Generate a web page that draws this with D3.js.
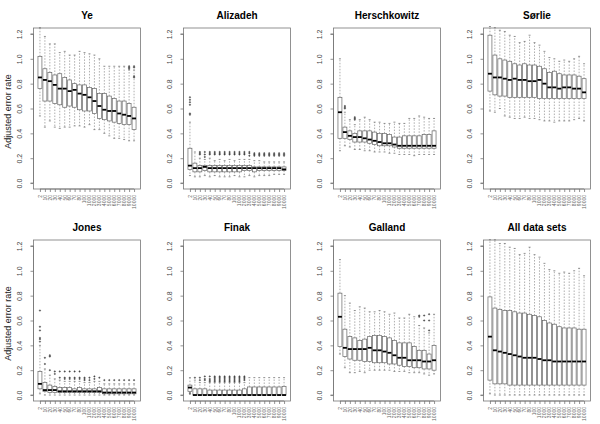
<!DOCTYPE html>
<html><head><meta charset="utf-8">
<script src="https://cdn.jsdelivr.net/npm/d3@7"></script>
<style>body{margin:0;background:#fff}svg{display:block}</style>
</head><body><svg id="c" width="600" height="424"></svg>
<script>
const titles = ["Ye","Alizadeh","Herschkowitz","Sørlie","Jones","Finak","Galland","All data sets"];
const xLabels = ["2","10","20","30","40","50","60","70","80","100","1000","2000","3000","4000","5000","6000","7000","8000","9000","10000"];
const yTicks = [0,0.2,0.4,0.6,0.8,1.0,1.2];
const yTickLabels = ["0.0","0.2","0.4","0.6","0.8","1.0","1.2"];
const yTitle = "Adjusted error rate";

// each row: [lower whisker, Q1, median, Q3, upper whisker]
const ye = [[0.54,0.76,0.85,1.02,1.25],[0.45,0.66,0.83,0.92,1.18],[0.50,0.66,0.82,0.89,1.12],[0.45,0.64,0.79,0.87,1.12],[0.44,0.63,0.76,0.88,1.05],[0.45,0.61,0.76,0.85,1.06],[0.45,0.62,0.74,0.83,1.03],[0.46,0.61,0.75,0.80,1.03],[0.46,0.59,0.72,0.79,1.06],[0.45,0.58,0.71,0.79,1.05],[0.47,0.58,0.69,0.77,1.04],[0.43,0.56,0.66,0.76,1.03],[0.43,0.52,0.62,0.72,1.00],[0.40,0.51,0.59,0.72,0.94],[0.38,0.50,0.58,0.70,0.94],[0.36,0.49,0.58,0.68,0.94],[0.36,0.48,0.56,0.66,0.94],[0.35,0.47,0.55,0.66,0.94],[0.34,0.47,0.54,0.64,0.91],[0.34,0.43,0.52,0.61,0.91]];
const yeOut = [[19,0.94],[19,0.93],[19,0.92],[20,0.94],[20,0.93],[20,0.86],[20,0.85]];

const alizadeh = [[0.06,0.11,0.14,0.28,0.49],[0.05,0.09,0.12,0.16,0.25],[0.05,0.09,0.12,0.14,0.20],[0.06,0.10,0.13,0.14,0.19],[0.05,0.09,0.12,0.14,0.20],[0.06,0.09,0.12,0.14,0.18],[0.05,0.09,0.12,0.14,0.19],[0.05,0.09,0.12,0.14,0.18],[0.05,0.09,0.12,0.14,0.19],[0.06,0.09,0.12,0.14,0.18],[0.05,0.09,0.12,0.14,0.19],[0.05,0.10,0.12,0.14,0.19],[0.06,0.10,0.12,0.14,0.19],[0.05,0.09,0.12,0.13,0.18],[0.06,0.10,0.12,0.13,0.18],[0.06,0.10,0.12,0.13,0.17],[0.06,0.10,0.12,0.13,0.17],[0.07,0.10,0.12,0.13,0.17],[0.07,0.10,0.12,0.13,0.17],[0.07,0.10,0.11,0.13,0.17]];
const alizadehOut = [[1,0.55],[1,0.56],[1,0.63],[1,0.65],[1,0.67],[1,0.69],[3,0.23],[3,0.24],[3,0.25],[4,0.21],[4,0.23],[4,0.25],[5,0.23],[5,0.24],[5,0.25],[6,0.23],[6,0.24],[6,0.25],[7,0.23],[7,0.24],[7,0.25],[8,0.23],[8,0.24],[8,0.25],[9,0.23],[9,0.24],[9,0.25],[10,0.23],[10,0.24],[10,0.25],[11,0.23],[11,0.24],[11,0.25],[12,0.23],[12,0.24],[12,0.25],[13,0.22],[13,0.24],[13,0.25],[14,0.22],[14,0.23],[14,0.24],[15,0.22],[15,0.23],[15,0.24],[16,0.22],[16,0.23],[16,0.24],[17,0.22],[17,0.23],[17,0.24],[18,0.22],[18,0.23],[18,0.24],[19,0.22],[19,0.23],[19,0.24],[20,0.22],[20,0.23],[20,0.24]];

const herschkowitz = [[0.26,0.36,0.57,0.69,1.00],[0.30,0.36,0.41,0.45,0.57],[0.29,0.35,0.38,0.42,0.51],[0.27,0.33,0.37,0.40,0.47],[0.27,0.33,0.37,0.42,0.51],[0.26,0.33,0.36,0.42,0.53],[0.26,0.32,0.35,0.42,0.51],[0.25,0.31,0.34,0.41,0.49],[0.25,0.30,0.33,0.40,0.49],[0.25,0.30,0.32,0.40,0.48],[0.24,0.30,0.32,0.39,0.48],[0.24,0.29,0.31,0.37,0.49],[0.23,0.28,0.30,0.37,0.48],[0.23,0.28,0.30,0.38,0.48],[0.23,0.28,0.30,0.38,0.52],[0.22,0.28,0.30,0.38,0.52],[0.23,0.28,0.30,0.38,0.54],[0.23,0.28,0.30,0.39,0.53],[0.23,0.28,0.30,0.39,0.52],[0.23,0.28,0.30,0.42,0.52]];
const herschkowitzOut = [[2,0.60],[2,0.61],[2,0.62],[4,0.51],[4,0.52],[4,0.53]];

const sorlie = [[0.58,0.74,0.88,1.19,1.26],[0.57,0.71,0.85,1.03,1.25],[0.60,0.70,0.85,1.00,1.23],[0.54,0.70,0.84,0.99,1.22],[0.53,0.69,0.83,0.98,1.19],[0.52,0.69,0.84,0.96,1.18],[0.52,0.69,0.83,0.95,1.13],[0.53,0.69,0.83,0.96,1.14],[0.52,0.69,0.82,0.95,1.19],[0.52,0.69,0.82,0.95,1.13],[0.51,0.68,0.83,0.94,1.11],[0.50,0.68,0.80,0.92,1.06],[0.50,0.68,0.77,0.89,1.01],[0.49,0.68,0.77,0.90,1.00],[0.50,0.68,0.76,0.88,0.98],[0.50,0.68,0.77,0.87,0.99],[0.50,0.68,0.77,0.87,0.98],[0.51,0.68,0.76,0.87,1.00],[0.52,0.68,0.76,0.86,1.02],[0.50,0.68,0.73,0.84,0.96]];
const sorlieOut = [];

const jones = [[0.01,0.05,0.09,0.19,0.40],[0.00,0.03,0.04,0.10,0.21],[0.00,0.02,0.04,0.08,0.16],[0.00,0.02,0.04,0.07,0.13],[0.00,0.02,0.03,0.06,0.12],[0.00,0.02,0.03,0.06,0.11],[0.00,0.02,0.03,0.06,0.11],[0.00,0.02,0.03,0.05,0.11],[0.00,0.02,0.03,0.06,0.11],[0.00,0.02,0.03,0.05,0.10],[0.00,0.02,0.03,0.05,0.10],[0.00,0.02,0.03,0.05,0.11],[0.00,0.02,0.03,0.06,0.11],[0.00,0.01,0.02,0.05,0.09],[0.00,0.01,0.02,0.05,0.09],[0.00,0.01,0.02,0.05,0.09],[0.00,0.01,0.02,0.05,0.09],[0.00,0.01,0.02,0.05,0.09],[0.00,0.01,0.02,0.05,0.09],[0.00,0.01,0.02,0.05,0.09]];
const jonesOut = [[1,0.43],[1,0.45],[1,0.46],[1,0.52],[1,0.55],[1,0.68],[2,0.25],[2,0.30],[3,0.20],[3,0.31],[3,0.32],[4,0.17],[4,0.19],[5,0.14],[5,0.19],[6,0.13],[6,0.14],[6,0.19],[7,0.13],[7,0.14],[7,0.19],[8,0.13],[8,0.14],[8,0.19],[9,0.13],[9,0.14],[9,0.19],[10,0.12],[10,0.13],[10,0.14],[11,0.12],[11,0.14],[12,0.13],[12,0.15],[13,0.14],[14,0.12],[15,0.12],[16,0.12],[17,0.12],[18,0.12],[19,0.12],[20,0.12]];

const finak = [[0.02,0.03,0.06,0.08,0.14],[0,0,0,0.05,0.12],[0,0,0,0.05,0.10],[0,0,0,0.05,0.10],[0,0,0,0.04,0.10],[0,0,0,0.04,0.10],[0,0,0,0.04,0.10],[0,0,0,0.04,0.10],[0,0,0,0.04,0.10],[0,0,0,0.04,0.10],[0,0,0,0.04,0.10],[0,0,0,0.05,0.10],[0,0,0,0.065,0.14],[0,0,0,0.065,0.14],[0,0,0,0.065,0.14],[0,0,0,0.065,0.14],[0,0,0,0.065,0.14],[0,0,0,0.065,0.14],[0,0,0,0.065,0.14],[0,0,0,0.07,0.14]];
const finakOut = [[1,0.01],[2,0.14],[3,0.12],[3,0.14],[4,0.12],[4,0.13],[4,0.15],[5,0.11],[5,0.12],[5,0.13],[5,0.15],[6,0.11],[6,0.12],[6,0.13],[6,0.14],[6,0.15],[7,0.11],[7,0.12],[7,0.13],[7,0.14],[7,0.15],[8,0.11],[8,0.12],[8,0.13],[8,0.14],[8,0.15],[9,0.11],[9,0.12],[9,0.13],[9,0.14],[9,0.15],[10,0.11],[10,0.12],[10,0.13],[10,0.14],[10,0.15],[11,0.11],[11,0.12],[11,0.13],[11,0.14],[11,0.15],[12,0.12],[12,0.13],[12,0.14],[12,0.15]];

const galland = [[0.33,0.39,0.63,0.82,1.09],[0.22,0.31,0.38,0.53,0.80],[0.18,0.29,0.37,0.47,0.74],[0.18,0.28,0.37,0.46,0.68],[0.19,0.28,0.37,0.44,0.71],[0.18,0.27,0.37,0.45,0.70],[0.20,0.27,0.38,0.47,0.67],[0.20,0.26,0.36,0.48,0.67],[0.20,0.26,0.36,0.48,0.68],[0.20,0.26,0.35,0.47,0.67],[0.20,0.25,0.34,0.46,0.65],[0.19,0.25,0.32,0.44,0.66],[0.19,0.24,0.30,0.42,0.62],[0.19,0.23,0.30,0.42,0.62],[0.18,0.23,0.28,0.42,0.65],[0.18,0.22,0.28,0.39,0.63],[0.18,0.22,0.28,0.36,0.56],[0.17,0.21,0.27,0.36,0.54],[0.16,0.21,0.27,0.33,0.50],[0.17,0.20,0.28,0.40,0.65]];
const gallandOut = [[17,0.63],[17,0.64],[18,0.60],[18,0.64],[19,0.52],[19,0.60],[19,0.65]];

const allSets = [[0.01,0.12,0.47,0.79,1.25],[0.00,0.09,0.36,0.70,1.25],[0.00,0.09,0.35,0.69,1.22],[0.00,0.09,0.34,0.68,1.22],[0.00,0.08,0.33,0.68,1.19],[0.00,0.08,0.32,0.67,1.18],[0.00,0.08,0.31,0.66,1.13],[0.00,0.08,0.30,0.66,1.14],[0.00,0.08,0.30,0.65,1.19],[0.00,0.08,0.30,0.64,1.13],[0.00,0.08,0.29,0.63,1.11],[0.00,0.08,0.28,0.60,1.06],[0.00,0.08,0.28,0.58,1.01],[0.00,0.08,0.27,0.57,1.00],[0.00,0.08,0.27,0.55,0.98],[0.00,0.08,0.27,0.54,0.99],[0.00,0.08,0.27,0.54,0.98],[0.00,0.08,0.27,0.54,1.00],[0.00,0.08,0.27,0.53,1.02],[0.00,0.08,0.27,0.53,0.96]];
const allSetsOut = [];

const panelStats = [ye, alizadeh, herschkowitz, sorlie, jones, finak, galland, allSets];
const panelOut = [yeOut, alizadehOut, herschkowitzOut, sorlieOut, jonesOut, finakOut, gallandOut, allSetsOut];

const svg = d3.select("#c");
const W = 150, H = 212;
const L = 33.5, R = 140.5, T = 28, B = 189;
const x = d3.scaleLinear().domain([-0.3, 21.3]).range([L, R]);
const y = d3.scaleLinear().domain([-0.048, 1.248]).range([B, T]);
const font = "Liberation Sans, Arial, Helvetica, sans-serif";
const boxHalf = 0.4, capHalf = 0.2;

panelStats.forEach((stats, p) => {
  const g = svg.append("g").attr("transform", `translate(${(p % 4) * W},${Math.floor(p / 4) * H})`);
  g.append("text").attr("x", (L + R) / 2).attr("y", 19).attr("text-anchor", "middle")
    .attr("font-family", font).attr("font-weight", "bold").attr("font-size", 10).attr("fill", "#000")
    .text(titles[p]);
  if (p % 4 === 0) {
    g.append("text").attr("transform", `translate(8.5,${(T + B) / 2 + 3}) rotate(-90)`)
      .attr("text-anchor", "middle").attr("dominant-baseline", "middle")
      .attr("font-family", font).attr("font-size", 9).attr("fill", "#222").text(yTitle);
  }
  // y axis
  const ya = g.append("g").attr("transform", `translate(${L},0)`)
    .call(d3.axisLeft(y).tickValues(yTicks).tickFormat((d, i) => yTickLabels[i]).tickSize(3).tickPadding(0));
  ya.select(".domain").attr("stroke", "#666").attr("stroke-width", 0.7).attr("d", `M-3,${y(0)}H0V${y(1.2)}H-3`);
  ya.selectAll(".tick line").attr("stroke", "#666").attr("stroke-width", 0.7);
  ya.selectAll(".tick text").attr("font-family", font).attr("font-size", 7).attr("fill", "#444")
    .attr("text-anchor", "middle").attr("dominant-baseline", "middle")
    .attr("transform", "translate(-13.5,0) rotate(-90)").attr("x", 0).attr("y", 0).attr("dy", 0);
  // x axis
  const xa = g.append("g").attr("transform", `translate(0,${B})`)
    .call(d3.axisBottom(x).tickValues(d3.range(1, 21)).tickFormat((d, i) => xLabels[i]).tickSize(3));
  xa.select(".domain").attr("stroke", "#666").attr("stroke-width", 0.7).attr("d", `M${x(1)},0H${x(20)}`);
  xa.selectAll(".tick line").attr("stroke", "#666").attr("stroke-width", 0.7);
  xa.selectAll(".tick text").attr("font-family", font).attr("font-size", 5).attr("fill", "#666")
    .attr("text-anchor", "end").attr("dominant-baseline", "middle")
    .attr("transform", "rotate(-90)").attr("x", -6).attr("y", 0).attr("dy", 0);
  // frame
  g.append("rect").attr("x", L).attr("y", T).attr("width", R - L).attr("height", B - T)
    .attr("fill", "none").attr("stroke", "#777").attr("stroke-width", 0.8);
  // boxes
  stats.forEach((s, i) => {
    const c = x(i + 1);
    const [lo, q1, md, q3, hi] = s;
    const bg = g.append("g");
    bg.append("line").attr("x1", c).attr("x2", c).attr("y1", y(q3)).attr("y2", y(hi))
      .attr("stroke", "#777").attr("stroke-width", 0.6).attr("stroke-dasharray", "1.5,1.5");
    bg.append("line").attr("x1", c).attr("x2", c).attr("y1", y(q1)).attr("y2", y(lo))
      .attr("stroke", "#777").attr("stroke-width", 0.6).attr("stroke-dasharray", "1.5,1.5");
    [lo, hi].forEach(v => bg.append("line").attr("x1", x(i + 1 - capHalf)).attr("x2", x(i + 1 + capHalf))
      .attr("y1", y(v)).attr("y2", y(v)).attr("stroke", "#666").attr("stroke-width", 0.7));
    bg.append("rect").attr("x", x(i + 1 - boxHalf)).attr("width", x(i + 1 + boxHalf) - x(i + 1 - boxHalf))
      .attr("y", y(q3)).attr("height", Math.max(0.01, y(q1) - y(q3)))
      .attr("fill", "#fff").attr("stroke", "#666").attr("stroke-width", 0.7);
    bg.append("line").attr("x1", x(i + 1 - boxHalf)).attr("x2", x(i + 1 + boxHalf))
      .attr("y1", y(md)).attr("y2", y(md)).attr("stroke", "#000").attr("stroke-width", 1.8);
  });
  panelOut[p].forEach(([i, v]) => {
    g.append("circle").attr("cx", x(i)).attr("cy", y(v)).attr("r", 0.7)
      .attr("fill", "#555").attr("stroke", "#333").attr("stroke-width", 0.4);
  });
});
</script></body></html>
